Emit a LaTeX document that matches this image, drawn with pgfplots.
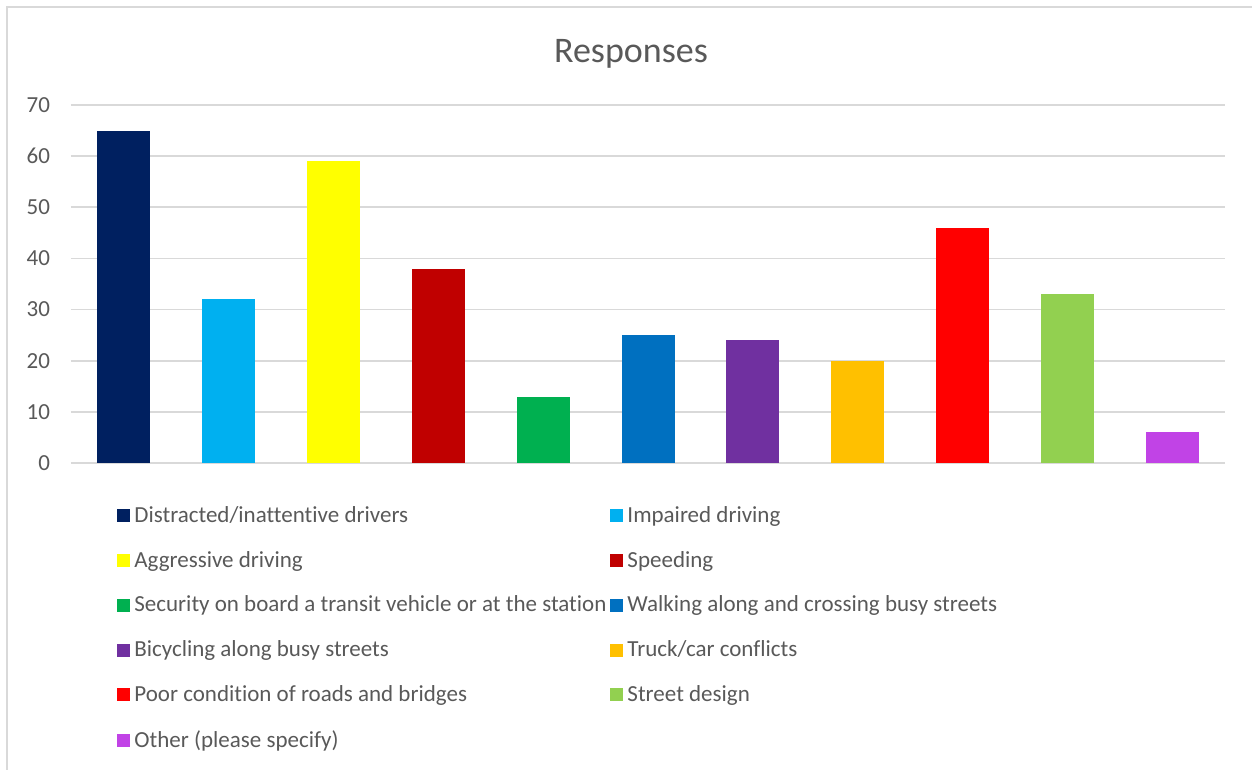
\documentclass[border=0pt]{standalone}
\usepackage{fontspec}
\setmainfont{Carlito}[Ligatures=NoCommon]
\usepackage{pgfplots}
\pgfplotsset{compat=1.18}

\definecolor{txt}{HTML}{595959}
\definecolor{grd}{HTML}{D9D9D9}
\definecolor{c1}{HTML}{002060}
\definecolor{c2}{HTML}{00B0F0}
\definecolor{c3}{HTML}{FFFF00}
\definecolor{c4}{HTML}{C00000}
\definecolor{c5}{HTML}{00B050}
\definecolor{c6}{HTML}{0070C0}
\definecolor{c7}{HTML}{7030A0}
\definecolor{c8}{HTML}{FFC000}
\definecolor{c9}{HTML}{FF0000}
\definecolor{c10}{HTML}{92D050}
\definecolor{c11}{HTML}{C143E6}

% 1 px of the reference = 0.5pt; origin at the axis' lower left corner (px 71,463)
\begin{document}
\begin{tikzpicture}[x=0.5pt,y=0.5pt]
\path[use as bounding box] (-71,-307) rectangle (1181,463);
\draw[grd, line width=0.9pt] (-64,-307) -- (-64,456) -- (1181,456);
\node[txt, font=\fontsize{18}{20}\selectfont] at (560,409) {Responses};
\begin{axis}[
    at={(0pt,0pt)}, anchor=south west,
    scale only axis,
    width=577pt, height=179pt,
    xmin=-0.5, xmax=10.5,
    ymin=0, ymax=70,
    ytick={0,10,...,70},
    xtick=\empty,
    axis line style={draw=none},
    ymajorgrids,
    grid style={grd, line width=0.8pt},
    major tick length=0pt,
    tick label style={txt, font=\fontsize{11.5}{13}\selectfont},
    /pgf/number format/assume math mode=true,
    yticklabel style={xshift=-7pt},
    ybar, bar width=26.5pt,
    every axis plot/.append style={bar shift=0pt, draw=none},
    legend columns=2,
    legend cell align=left,
    legend style={
        at={(23pt,-21.5pt)}, anchor=north west,
        draw=none, fill=none,
        font=\fontsize{11.5}{13}\selectfont, text=txt,
        row sep=12.9pt,
        inner sep=0pt,
        /tikz/every even column/.append style={column sep=0pt},
        nodes={inner xsep=2pt, inner ysep=0pt},
    },
    legend image code/.code={\fill[#1] (0pt,-3.25pt) rectangle (6.5pt,3.25pt);},
]
\addplot[fill=c1] coordinates {(0,65)};
\addplot[fill=c2] coordinates {(1,32)};
\addplot[fill=c3] coordinates {(2,59)};
\addplot[fill=c4] coordinates {(3,38)};
\addplot[fill=c5] coordinates {(4,13)};
\addplot[fill=c6] coordinates {(5,25)};
\addplot[fill=c7] coordinates {(6,24)};
\addplot[fill=c8] coordinates {(7,20)};
\addplot[fill=c9] coordinates {(8,46)};
\addplot[fill=c10] coordinates {(9,33)};
\addplot[fill=c11] coordinates {(10,6)};
\legend{Distracted/inattentive drivers, Impaired driving,
    Aggressive driving, Speeding,
    Security on board a transit vehicle or at the station, Walking along and crossing busy streets,
    Bicycling along busy streets, Truck/car conflicts,
    Poor condition of roads and bridges, Street design,
    Other (please specify)}
\end{axis}
\end{tikzpicture}
\end{document}
